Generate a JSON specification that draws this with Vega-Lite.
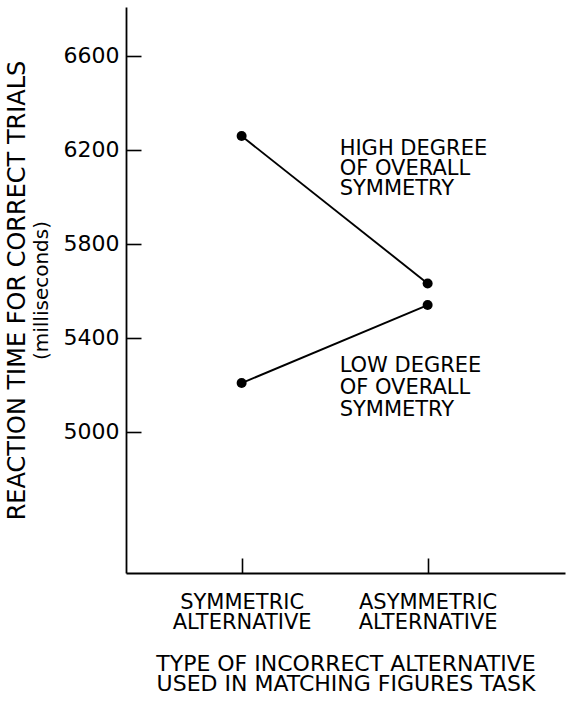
{
  "$schema": "https://vega.github.io/schema/vega-lite/v6.json",
  "width": 439,
  "height": 566,
  "autosize": "none",
  "padding": {"left": 126, "top": 7, "right": 2, "bottom": 129},
  "background": "white",
  "config": {
    "font": "DejaVu Sans",
    "view": {"stroke": null},
    "axis": {
      "domainColor": "black",
      "tickColor": "black",
      "labelColor": "black",
      "titleColor": "black",
      "grid": false,
      "domainWidth": 1.8,
      "tickWidth": 1.6,
      "titleFontWeight": "normal"
    }
  },
  "data": {
    "values": [
      {"alternative": "Symmetric", "symmetry": "High", "rt": 6258},
      {"alternative": "Asymmetric", "symmetry": "High", "rt": 5631},
      {"alternative": "Symmetric", "symmetry": "Low", "rt": 5207},
      {"alternative": "Asymmetric", "symmetry": "Low", "rt": 5539}
    ]
  },
  "resolve": {"axis": {"y": "independent"}},
  "layer": [
    {
      "mark": {"type": "line", "color": "black", "strokeWidth": 1.9},
      "encoding": {
        "x": {
          "field": "alternative",
          "type": "ordinal",
          "sort": ["Symmetric", "Asymmetric"],
          "scale": {"type": "point", "padding": 0.68, "align": 0.457},
          "axis": {
            "title": ["TYPE OF INCORRECT ALTERNATIVE", "USED IN MATCHING FIGURES TASK"],
            "titleFontSize": 22,
            "titleLineHeight": 20,
            "titlePadding": 21,
            "labelExpr": "datum.value == 'Symmetric' ? ['SYMMETRIC', 'ALTERNATIVE'] : ['ASYMMETRIC', 'ALTERNATIVE']",
            "labelFontSize": 21,
            "labelLineHeight": 20,
            "labelPadding": 33,
            "labelAngle": 0,
            "ticks": true,
            "tickSize": -15
          }
        },
        "y": {
          "field": "rt",
          "type": "quantitative",
          "scale": {"domain": [4399, 6807], "nice": false, "zero": false},
          "axis": {
            "orient": "left",
            "title": "REACTION TIME FOR CORRECT TRIALS",
            "titleFontSize": 24,
            "titlePadding": 34,
            "values": [5000, 5400, 5800, 6200, 6600],
            "format": "d",
            "labelFontSize": 22,
            "labelPadding": 22,
            "ticks": true,
            "tickSize": -15
          }
        },
        "detail": {"field": "symmetry"}
      }
    },
    {
      "mark": {"type": "point", "filled": true, "color": "black", "size": 100, "opacity": 1},
      "encoding": {
        "x": {"field": "alternative", "type": "ordinal", "sort": ["Symmetric", "Asymmetric"]},
        "y": {
          "field": "rt",
          "type": "quantitative",
          "axis": {
            "orient": "left",
            "title": "(milliseconds)",
            "titleFontSize": 20,
            "titlePadding": 75,
            "labels": false,
            "ticks": false,
            "domain": false
          }
        }
      }
    },
    {
      "transform": [{"filter": "datum.symmetry == 'High' && datum.alternative == 'Asymmetric'"}],
      "mark": {"type": "text", "align": "left", "baseline": "middle", "dx": -88, "dy": -134, "fontSize": 21, "lineHeight": 20, "color": "black"},
      "encoding": {
        "x": {"field": "alternative", "type": "ordinal", "sort": ["Symmetric", "Asymmetric"]},
        "y": {"field": "rt", "type": "quantitative", "axis": null},
        "text": {"value": ["HIGH DEGREE", "OF OVERALL", "SYMMETRY"]}
      }
    },
    {
      "transform": [{"filter": "datum.symmetry == 'Low' && datum.alternative == 'Asymmetric'"}],
      "mark": {"type": "text", "align": "left", "baseline": "middle", "dx": -88, "dy": 61, "fontSize": 21, "lineHeight": 22, "color": "black"},
      "encoding": {
        "x": {"field": "alternative", "type": "ordinal", "sort": ["Symmetric", "Asymmetric"]},
        "y": {"field": "rt", "type": "quantitative", "axis": null},
        "text": {"value": ["LOW DEGREE", "OF OVERALL", "SYMMETRY"]}
      }
    }
  ]
}
